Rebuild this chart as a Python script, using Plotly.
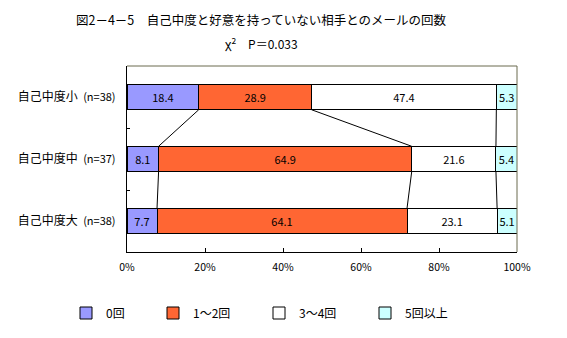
import plotly.graph_objects as go

# Groups (top to bottom) and their sample sizes
groups = ["自己中度小", "自己中度中", "自己中度大"]
sizes = [38, 37, 38]

# Response categories and percentage shares per group
categories = ["0回", "1～2回", "3～4回", "5回以上"]
share_0 = [18.4, 8.1, 7.7]
share_1_2 = [28.9, 64.9, 64.1]
share_3_4 = [47.4, 21.6, 23.1]
share_5p = [5.3, 5.4, 5.1]

colors = ["#9999FF", "#FF6633", "#FFFFFF", "#CCFFFF"]
x_ticks = [0, 20, 40, 60, 80, 100]

FONT = "Noto Sans CJK JP, Noto Sans, sans-serif"
BAR_W = 0.41

# plot area in pixels (left, right, top, bottom)
PL, PR, PT, PB = 127, 517, 66, 253
PW, PH = PR - PL, PB - PT

series = [share_0, share_1_2, share_3_4, share_5p]
ypos = list(range(len(groups)))

# left edge (px) of each legend entry
legend_px = [66, 153, 259, 365]

fig = go.Figure()
for k, (name, vals, col) in enumerate(zip(categories, series, colors)):
    fig.add_trace(go.Bar(
        y=ypos, x=vals, name=name, orientation="h", width=BAR_W,
        marker=dict(color=col, line=dict(color="#000000", width=1)),
        text=[f"{v:.1f}" for v in vals], textposition="inside",
        insidetextanchor="middle", textangle=0, constraintext="none",
        textfont=dict(family=FONT, size=11, color="#000000"),
        hoverinfo="skip",
        legend="legend" if k == 0 else f"legend{k + 1}",
    ))

# Series lines joining segment boundaries of neighbouring bars
cum = []
for i in range(len(groups)):
    run, edges = 0.0, []
    for vals in series[:-1]:
        run += vals[i]
        edges.append(run)
    cum.append(edges)
for i in range(len(groups) - 1):
    for a, b in zip(cum[i], cum[i + 1]):
        fig.add_trace(go.Scatter(
            x=[a, b], y=[i + BAR_W / 2, i + 1 - BAR_W / 2], mode="lines",
            line=dict(color="#000000", width=1), showlegend=False,
            hoverinfo="skip",
        ))

ticktext = [f"{g}  <span style='font-size:11px'>(n={n})</span>" for g, n in zip(groups, sizes)]

legends = {}
for k, px in enumerate(legend_px):
    key = "legend" if k == 0 else f"legend{k + 1}"
    legends[key] = dict(
        orientation="h", x=(px - PL) / PW, xanchor="left",
        y=(PB - 313) / PH, yanchor="middle",
        itemwidth=30, font=dict(family=FONT, size=12),
        bgcolor="rgba(0,0,0,0)",
    )

fig.update_layout(
    barmode="stack",
    width=567, height=338,
    margin=dict(l=PL, r=567 - PR, t=PT, b=338 - PB),
    paper_bgcolor="#FFFFFF", plot_bgcolor="#FFFFFF",
    font=dict(family=FONT, size=12, color="#000000"),
    title=dict(
        text="図2－4－5　自己中度と好意を持っていない相手とのメールの回数",
        x=261 / 567, xanchor="center", xref="container",
        y=1 - 21 / 338, yanchor="middle", yref="container",
        font=dict(family=FONT, size=12.5, color="#000000"),
    ),
    xaxis=dict(
        range=[0, 100], tickvals=x_ticks,
        ticktext=[f"{t}%" for t in x_ticks],
        showgrid=False, zeroline=False,
        showline=True, linecolor="#000000", linewidth=1,
        ticks="inside", ticklen=4, tickcolor="#000000",
        ticklabelstandoff=5,
        tickfont=dict(family=FONT, size=10.5),
        fixedrange=True,
    ),
    yaxis=dict(
        range=[len(groups) - 0.5, -0.5],
        tickvals=ypos, ticktext=ticktext, ticks="",
        showgrid=False, zeroline=False,
        showline=True, linecolor="#000000", linewidth=1,
        minor=dict(tickvals=[i + 0.5 for i in ypos[:-1]], ticks="inside",
                   ticklen=3, tickcolor="#000000"),
        ticklabelstandoff=8,
        tickfont=dict(family=FONT, size=12),
        fixedrange=True,
    ),
    annotations=[dict(
        text="χ<sup>2</sup>　P＝0.033", xref="paper", yref="paper",
        x=(261 - PL) / PW, y=(PB - 43) / PH,
        xanchor="center", yanchor="middle", showarrow=False,
        font=dict(family=FONT, size=12, color="#000000"),
    )],
    shapes=[
        dict(type="line", xref="paper", yref="paper", x0=0, x1=1, y0=1, y1=1,
             line=dict(color="#6B6B4F", width=1)),
        dict(type="line", xref="paper", yref="paper", x0=1, x1=1, y0=0, y1=1,
             line=dict(color="#6B6B4F", width=1)),
    ],
    **legends,
)

fig.write_html("out.html")
